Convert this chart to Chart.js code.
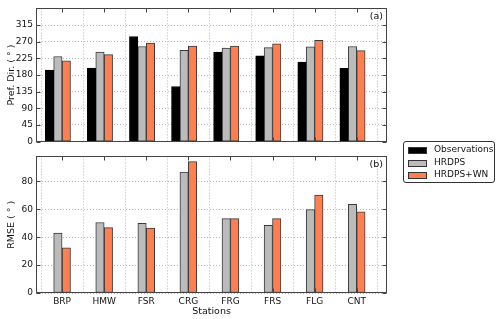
<!DOCTYPE html>
<html><head><meta charset="utf-8">
<script src="https://cdn.jsdelivr.net/npm/chart.js@4/dist/chart.umd.min.js"></script>
<style>
html,body{margin:0;padding:0;background:#fff;}
body{width:500px;height:319px;position:relative;overflow:hidden;font-family:"DejaVu Sans",sans-serif;}
#c1{position:absolute;left:0;top:0;}
#c2{position:absolute;left:0;top:148px;}
#legend{position:absolute;left:403px;top:141px;width:90px;height:40px;border:1px solid #333;border-radius:3px;background:#fff;}
.row{position:absolute;left:0;height:13px;width:90px;}
.sw{position:absolute;left:4px;top:3px;width:17px;height:5px;border:1px solid #333;}
.tx{position:absolute;left:30px;top:-1px;font-size:9px;line-height:13px;color:#111;white-space:nowrap;}
</style></head><body>
<canvas id="c1" width="500" height="150"></canvas>
<canvas id="c2" width="500" height="171"></canvas>
<div id="legend"></div>
<script>
const stations = ['BRP','HMW','FSR','CRG','FRG','FRS','FLG','CNT'];
const dirObs   = [193,199,284,149,242,232,215,198];
const dirHrdps = [230,242,257,247,253,254,256,257];
const dirWn    = [218,235,266,258,258,264,274,246];
const rmseHrdps = [43,50.6,49.9,86.7,53.4,48.5,59.8,63.7];
const rmseWn    = [32.4,46.9,46.5,94.3,53.4,53.4,70.3,58.2];
const dirTicks  = [0,45,90,135,180,225,270,315];
const rmseTicks = [0,20,40,60,80];
const seriesNames = ['Observations','HRDPS','HRDPS+WN'];

const colors = {obs:'#000000', hrdps:'#bbbbbb', wn:'#ff7f50'};
const edge = '#3a3a3a';
const tickFont = {family:'DejaVu Sans', size:9};
const titleFont = {family:'DejaVu Sans', size:9.5};
const gridOpt = {color:'#b8b8b8', lineWidth:1, drawTicks:false};
const borderOpt = {display:false, dash:[1,2]};

function pts(vals, off){ return vals.map((v,i)=>({x:i+off, y:v})); }

const framePlugin = {
  id:'frame',
  afterDraw(chart, args, opts){
    const ctx = chart.ctx, a = chart.chartArea;
    ctx.save();
    ctx.strokeStyle = '#444'; ctx.lineWidth = 1;
    const L = Math.round(a.left)+0.5, R = Math.round(a.right)-0.5, T = Math.round(a.top)+0.5, B = Math.round(a.bottom)-0.5;
    ctx.strokeRect(L, T, R-L, B-T);
    ctx.beginPath();
    const ys = chart.scales.y, xs = chart.scales.x;
    ys.ticks.forEach(t=>{ const y = Math.round(ys.getPixelForValue(t.value))+0.5;
      ctx.moveTo(L,y); ctx.lineTo(L+4,y); ctx.moveTo(R,y); ctx.lineTo(R-4,y); });
    xs.ticks.forEach(t=>{ const x = Math.round(xs.getPixelForValue(t.value))+0.5;
      ctx.moveTo(x,T); ctx.lineTo(x,T+4); ctx.moveTo(x,B); ctx.lineTo(x,B-4); });
    ctx.stroke();
    ctx.fillStyle = '#111'; ctx.font = '9.5px "DejaVu Sans"'; ctx.textAlign='right'; ctx.textBaseline='middle';
    ctx.fillText(opts.label, a.right-4, a.top+8);
    ctx.restore();
  }
};

function makeChart(id, datasets, ymax, yticks, ytitle, label, bottomPanel){
  return new Chart(document.getElementById(id), {
    type:'bar',
    data:{datasets},
    options:{
      responsive:false, animation:false, devicePixelRatio:1,
      layout:{padding:{left:0, right:113, top: bottomPanel?3:4, bottom: bottomPanel?0:4}},
      plugins:{legend:{display:false}, tooltip:{enabled:false}, frame:{label}},
      datasets:{bar:{grouped:false, barPercentage:1, categoryPercentage:1, borderWidth:1, borderSkipped:false}},
      scales:{
        x:{type:'linear', min:-0.62, max:7.72, offset:false,
           afterBuildTicks:s=>{ s.ticks = stations.map((_,i)=>({value:i})); },
           afterFit:s=>{ s.height = bottomPanel?26:0; },
           ticks:{display:bottomPanel, padding:3, font:tickFont, color:'#111', autoSkip:false, maxRotation:0,
                  callback:(v)=>stations[Math.round(v)]},
           grid:gridOpt, border:borderOpt,
           title:{display:bottomPanel, text:'Stations', font:titleFont, color:'#111', padding:{top:0,bottom:1.5}}
        },
        y:{min:0, max:ymax,
           afterBuildTicks:s=>{ s.ticks = yticks.map(v=>({value:v})); },
           afterFit:s=>{ s.width = 36; },
           ticks:{padding:3, font:tickFont, color:'#111'},
           grid:gridOpt, border:borderOpt,
           title:{display:true, text:ytitle, font:titleFont, color:'#111', padding:{top:6,bottom:0}}
        }
      }
    },
    plugins:[framePlugin]
  });
}

makeChart('c1', [
  {label:seriesNames[0], data:pts(dirObs,-0.3), backgroundColor:colors.obs, borderColor:'#000'},
  {label:seriesNames[1], data:pts(dirHrdps,-0.1), backgroundColor:colors.hrdps, borderColor:edge},
  {label:seriesNames[2], data:pts(dirWn,0.1), backgroundColor:colors.wn, borderColor:edge}
], 360, dirTicks, 'Pref. Dir. ( ° )', '(a)', false);

makeChart('c2', [
  {label:seriesNames[1], data:pts(rmseHrdps,-0.1), backgroundColor:colors.hrdps, borderColor:edge},
  {label:seriesNames[2], data:pts(rmseWn,0.1), backgroundColor:colors.wn, borderColor:edge}
], 98, rmseTicks, 'RMSE ( ° )', '(b)', true);

const lg = document.getElementById('legend');
const swc = [colors.obs, colors.hrdps, colors.wn];
seriesNames.forEach((n,i)=>{
  const r = document.createElement('div'); r.className='row'; r.style.top = (2+i*12.7)+'px';
  r.innerHTML = '<div class="sw" style="background:'+swc[i]+'"></div><div class="tx">'+n+'</div>';
  lg.appendChild(r);
});
</script>
</body></html>
